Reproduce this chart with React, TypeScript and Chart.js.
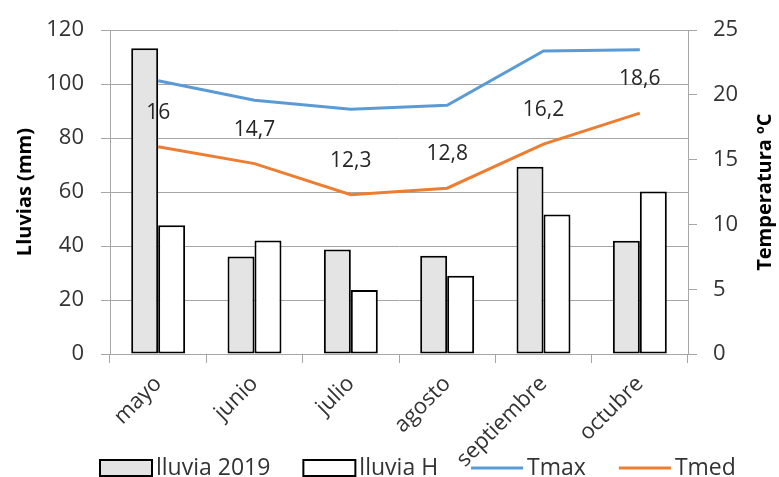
import React, { useEffect, useRef } from "react";
import { Chart, registerables } from "chart.js";

Chart.register(...registerables);

// Monthly rainfall (mm) and temperature (ºC)
const months = ["mayo", "junio", "julio", "agosto", "septiembre", "octubre"];
const lluvia2019 = [113.3, 36.1, 38.7, 36.4, 69.4, 42.0];
const lluviaH = [47.7, 42.1, 23.7, 29.0, 51.7, 60.2];
const tmax = [21.1, 19.6, 18.9, 19.2, 23.4, 23.5];
const tmed = [16, 14.7, 12.3, 12.8, 16.2, 18.6];

const rainMin = 0;
const rainMax = 120;
const rainStep = 20;
const tempMin = 0;
const tempMax = 25;
const tempStep = 5;

const FONT = '"Open Sans", "Noto Sans", sans-serif';
const TEXT = "#333333";
const GRID = "#a6a6a6";
const BLUE = "#5b9bd5";
const ORANGE = "#ed7d31";
const BAR_GREY = "#e4e4e4";

const fmt = (v: number) => String(v).replace(".", ",");

const extras = {
  id: "extras",
  afterDatasetsDraw(chart: any) {
    const ctx = chart.ctx;
    const meta = chart.getDatasetMeta(3);
    ctx.save();
    ctx.font = `21px ${FONT}`;
    ctx.fillStyle = "#262626";
    ctx.textAlign = "center";
    ctx.textBaseline = "middle";
    meta.data.forEach((pt: any, i: number) => {
      ctx.fillText(fmt(tmed[i]), pt.x, pt.y - 34);
    });
    ctx.restore();
  },
  afterDraw(chart: any) {
    const ctx = chart.ctx;
    const area = chart.chartArea;
    const midY = (area.top + area.bottom) / 2;
    // axis titles, both reading bottom to top
    const title = (text: string, x: number) => {
      ctx.save();
      ctx.font = `bold 20px ${FONT}`;
      ctx.fillStyle = "#000";
      ctx.textAlign = "center";
      ctx.textBaseline = "middle";
      ctx.translate(x, midY);
      ctx.rotate(-Math.PI / 2);
      ctx.fillText(text, 0, 0);
      ctx.restore();
    };
    title("Lluvias (mm)", 25);
    title("Temperatura ºC", 765);

    // legend row
    ctx.save();
    ctx.font = `23px ${FONT}`;
    ctx.textBaseline = "middle";
    ctx.textAlign = "left";
    const y = 468;
    let x = area.left - 10;
    const items = [
      { label: "lluvia 2019", kind: "box", color: BAR_GREY },
      { label: "lluvia H", kind: "box", color: "#ffffff" },
      { label: "Tmax", kind: "line", color: BLUE },
      { label: "Tmed", kind: "line", color: ORANGE },
    ];
    items.forEach((it) => {
      if (it.kind === "box") {
        ctx.fillStyle = it.color;
        ctx.fillRect(x, y - 8, 52, 16);
        ctx.strokeStyle = "#000";
        ctx.lineWidth = 2;
        ctx.strokeRect(x, y - 8, 52, 16);
      } else {
        ctx.strokeStyle = it.color;
        ctx.lineWidth = 3;
        ctx.beginPath();
        ctx.moveTo(x, y);
        ctx.lineTo(x + 52, y);
        ctx.stroke();
      }
      ctx.fillStyle = TEXT;
      ctx.fillText(it.label, x + 56, y);
      x += 56 + ctx.measureText(it.label).width + 33;
    });
    ctx.restore();
  },
};

export default function App() {
  const canvasRef = useRef<HTMLCanvasElement | null>(null);

  useEffect(() => {
    document.body.style.margin = "0";
    const canvas = canvasRef.current;
    if (!canvas) return;
    const chart = new Chart(canvas, {
      type: "bar",
      data: {
        labels: months,
        datasets: [
          {
            type: "bar",
            label: "lluvia 2019",
            data: lluvia2019,
            yAxisID: "y",
            backgroundColor: BAR_GREY,
            borderColor: "#000",
            borderWidth: 2,
            borderSkipped: false,
            categoryPercentage: 0.56,
            barPercentage: 1,
            order: 2,
          },
          {
            type: "bar",
            label: "lluvia H",
            data: lluviaH,
            yAxisID: "y",
            backgroundColor: "#ffffff",
            borderColor: "#000",
            borderWidth: 2,
            borderSkipped: false,
            categoryPercentage: 0.56,
            barPercentage: 1,
            order: 2,
          },
          {
            type: "line",
            label: "Tmax",
            data: tmax,
            yAxisID: "y1",
            borderColor: BLUE,
            backgroundColor: BLUE,
            borderWidth: 3,
            pointRadius: 0,
            tension: 0,
            order: 1,
          },
          {
            type: "line",
            label: "Tmed",
            data: tmed,
            yAxisID: "y1",
            borderColor: ORANGE,
            backgroundColor: ORANGE,
            borderWidth: 3,
            pointRadius: 0,
            tension: 0,
            order: 1,
          },
        ] as any,
      },
      options: {
        animation: false,
        responsive: true,
        maintainAspectRatio: false,
        layout: { padding: { top: 25, left: 0, right: 0, bottom: 0 } },
        plugins: {
          legend: { display: false },
          tooltip: { enabled: false },
        },
        scales: {
          x: {
            afterFit: (s: any) => {
              s.height = 123;
            },
            grid: {
              offset: true,
              drawOnChartArea: false,
              drawTicks: true,
              tickLength: 9,
              color: GRID,
            },
            border: { color: GRID },
            ticks: {
              minRotation: 45,
              maxRotation: 45,
              padding: 8,
              color: TEXT,
              font: { family: FONT, size: 22 },
            },
          },
          y: {
            position: "left",
            min: rainMin,
            max: rainMax,
            afterFit: (s: any) => {
              s.width = 110;
            },
            grid: { color: GRID, tickLength: 9 },
            border: { color: GRID },
            ticks: {
              stepSize: rainStep,
              padding: 17,
              color: TEXT,
              font: { family: FONT, size: 22 },
            },
          },
          y1: {
            position: "right",
            min: tempMin,
            max: tempMax,
            afterFit: (s: any) => {
              s.width = 91;
            },
            grid: { drawOnChartArea: false, color: GRID, tickLength: 9 },
            border: { color: GRID },
            ticks: {
              stepSize: tempStep,
              padding: 16,
              color: TEXT,
              font: { family: FONT, size: 22 },
            },
          },
        },
      } as any,
      plugins: [extras],
    });
    return () => chart.destroy();
  }, []);

  return (
    <div style={{ position: "relative", width: 779, height: 477 }}>
      <canvas ref={canvasRef} />
    </div>
  );
}
